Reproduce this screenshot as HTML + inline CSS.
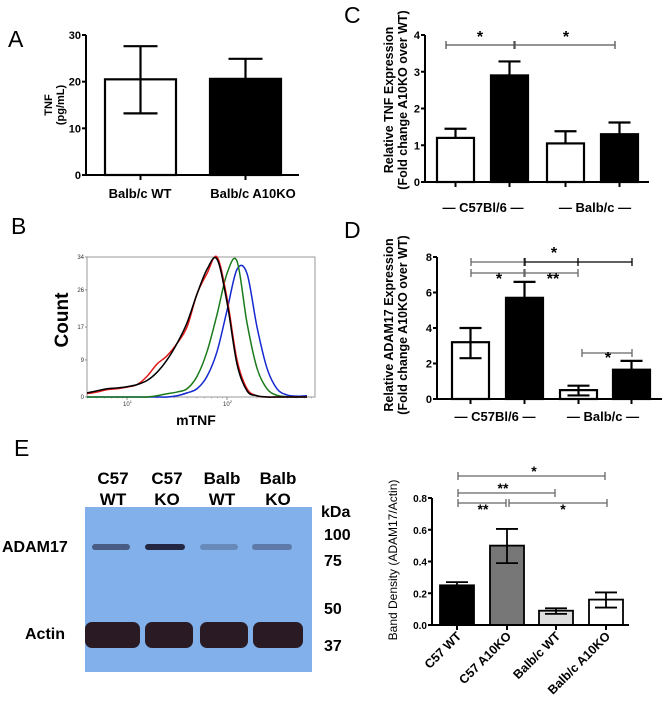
<!DOCTYPE html>
<html><head><meta charset="utf-8"><style>
html,body{margin:0;padding:0;background:#fff}
svg{display:block;font-family:"Liberation Sans",Arial,sans-serif}
</style></head><body>
<svg id="fig" width="662" height="701" viewBox="0 0 662 701" xmlns="http://www.w3.org/2000/svg">
<g id="pA"></g>
<g id="pB"></g>
<g id="pC"></g>
<g id="pD"></g>
<g id="pE"></g>
</svg>
<script>
// ---- data ----
const aCategories=["Balb/c WT","Balb/c A10KO"];
const aValues=[20.5,20.6];
const aErrLow=[13.2,20.6];
const aErrHigh=[27.6,24.9];
const aTicks=[0,10,20,30];

const cValues=[1.2,2.9,1.05,1.3];
const cErrHigh=[1.45,3.28,1.38,1.62];
const cTicks=[0,1,2,3,4];

const dValues=[3.2,5.7,0.5,1.65];
const dErrLow=[2.3,5.7,0.2,1.65];
const dErrHigh=[4.0,6.6,0.75,2.15];
const dTicks=[0,2,4,6,8];

const eCategories=["C57 WT","C57 A10KO","Balb/c WT","Balb/c A10KO"];
const eValues=[0.25,0.5,0.09,0.16];
const eErrLow=[0.23,0.39,0.07,0.11];
const eErrHigh=[0.27,0.605,0.105,0.205];
const eTicks=[0.0,0.2,0.4,0.6,0.8];

const bX=[0.6,0.7,0.8,0.9,1.0,1.1,1.2,1.3,1.4,1.5,1.6,1.7,1.8,1.9,2.0,2.1,2.2,2.3,2.4,2.5,2.6,2.7,2.8];
const bBlack=[1,1.5,2,2.2,2.5,3,4,6,9,13,18,25,31,33.5,23,8,1.5,0.3,0,0,0,0,0];
const bRed=[0.8,1.2,1.8,2,2.4,3,5,8,10,13,17,25,30,34,24,9,2,0.3,0,0,0,0,0];
const bGreen=[0,0,0,0,0,0,0,0.3,0.8,1.2,2,5,11,20,30,33,18,7,2,0.4,0.1,0,0];
const bBlue=[0,0,0,0,0,0,0,0,0,0.3,1,2,5,11,21,31,30,17,7,2,0.5,0.2,0.3];
const bYTicks=[0,9,17,26,34];

const NS="http://www.w3.org/2000/svg";
function mk(parent,tag,attrs,text){const e=document.createElementNS(NS,tag);for(const k in attrs)e.setAttribute(k,attrs[k]);if(text!==undefined)e.textContent=text;parent.appendChild(e);return e;}
function line(p,x1,y1,x2,y2,col,w){return mk(p,'line',{x1,y1,x2,y2,stroke:col||'#000','stroke-width':w||2});}

function barChart(g,o){
  const ys=v=>o.y0-(v-o.min)/(o.max-o.min)*(o.y0-o.yTop);
  o.values.forEach((v,i)=>{
    const x=o.barX[i];
    const r=mk(g,'rect',{x:x,y:ys(v),width:o.bw,height:o.y0-ys(v),fill:o.fills[i],stroke:'#000','stroke-width':o.sw||2.2});
    
    
    const cx=x+o.bw/2;
    const lo=o.errLow?o.errLow[i]:v, hi=o.errHigh[i];
    const eg=mk(g,'g',{});
    
    
    line(eg,cx,ys(hi),cx,ys(lo),'#000',o.sw||2.2);
    line(eg,cx-o.cap,ys(hi),cx+o.cap,ys(hi),'#000',o.sw||2.2);
    if(o.errLow&&lo<v) line(eg,cx-o.cap,ys(lo),cx+o.cap,ys(lo),'#000',o.sw||2.2);
  });
  const ax=mk(g,'g',{});
  
  
  line(ax,o.ax,ys(o.max),o.ax,o.y0,'#000',2);
  o.ticks.forEach(t=>{
    line(ax,o.ax-4,ys(t),o.ax,ys(t),'#000',2);
    const tx=mk(ax,'text',{x:o.ax-5,y:ys(t)+4,'text-anchor':'end','font-size':o.tfs||11,'font-weight':'bold'},o.fmt?o.fmt(t):String(t));
    
    
  });
  const xa=mk(g,'g',{});
  
  
  line(xa,o.ax,o.y0,o.axEnd,o.y0,'#000',2);
  o.values.forEach((v,i)=>{const cx=o.barX[i]+o.bw/2;line(xa,cx,o.y0,cx,o.y0+5,'#000',2);});
  return ys;
}
function sig(g,x1,x2,y,col,label,lx,ly,fs){
  const s=mk(g,'g',{});
  
  
  line(s,x1,y,x2,y,col,1.3);line(s,x1,y-4,x1,y+4,col,1.3);line(s,x2,y-4,x2,y+4,col,1.3);
  if(label){mk(s,'text',{x:lx,y:ly,'text-anchor':'middle','font-size':fs||16,'font-weight':'bold'},label);}
}
function rotLabel(g,x,y,lines,fs,name,weight){
  const t=mk(g,'text',{transform:`translate(${x},${y}) rotate(-90)`,'text-anchor':'middle','font-size':fs,'font-weight':weight||'bold'});
  
  
  lines.forEach((l,i)=>{mk(t,'tspan',{x:0,dy:i?fs*1.1:0},l);});
}
function letter(g,x,y,s){const t=mk(g,'text',{x,y,'font-size':23},s);}

// ---- Panel A ----
const pA=document.getElementById('pA');
letter(pA,8,47,'A');
barChart(pA,{values:aValues,errLow:aErrLow,errHigh:aErrHigh,barX:[105,210],bw:71,fills:['#fff','#000'],y0:175,yTop:35,min:0,max:30,ticks:aTicks,ax:86,axEnd:299,cap:17,tfs:11});
rotLabel(pA,52,105,['TNF','(pg/mL)'],11,'y-axis-title');
aCategories.forEach((c,i)=>{const t=mk(pA,'text',{x:[140,253][i],y:198,'text-anchor':'middle','font-size':13,'font-weight':'bold'},c);});

// ---- Panel B ----
const pB=document.getElementById('pB');
letter(pB,11,234,'B');
const bx0=87,bx1=315,by0=397,by1=257;
const bxs=v=>bx0+(v-0.6)/(2.88-0.6)*(bx1-bx0);
const bys=v=>by0-v/34*(by0-by1);
const frame=mk(pB,'rect',{x:bx0,y:by1,width:bx1-bx0,height:by0-by1,fill:'#fff',stroke:'#999','stroke-width':1});

bYTicks.forEach(t=>{mk(pB,'text',{x:bx0-3,y:bys(t)+2,'text-anchor':'end','font-size':6,fill:'#333'},String(t));line(pB,bx0-2,bys(t),bx0,bys(t),'#666',0.7);});
[1,2].forEach(d=>{const x=bxs(d);line(pB,x,by0,x,by0+3,'#666',0.7);const t=mk(pB,'text',{x:x-4,y:by0+9,'font-size':6,fill:'#333'},'10');mk(t,'tspan',{dy:-3,'font-size':4},String(d));});
for(let d=0;d<3;d++){for(let k=2;k<10;k++){const v=d+Math.log10(k);if(v>0.6&&v<2.88)line(pB,bxs(v),by0,bxs(v),by0+1.5,'#888',0.5);}}
function curve(arr,col,name){
  const pts=bX.map((x,i)=>[bxs(x),bys(arr[i])]);
  let d=`M${pts[0][0]},${pts[0][1]}`;
  for(let i=0;i<pts.length-1;i++){const p0=pts[Math.max(0,i-1)],p1=pts[i],p2=pts[i+1],p3=pts[Math.min(pts.length-1,i+2)];
    d+=` C${p1[0]+(p2[0]-p0[0])/6},${p1[1]+(p2[1]-p0[1])/6} ${p2[0]-(p3[0]-p1[0])/6},${p2[1]-(p3[1]-p1[1])/6} ${p2[0]},${p2[1]}`;}
  const p=mk(pB,'path',{d,fill:'none',stroke:col,'stroke-width':1.5});
  
  
}
curve(bBlue,'#1428d0','histogram-blue');
curve(bGreen,'#1a7a1a','histogram-green');
curve(bRed,'#e01818','histogram-red');
curve(bBlack,'#000','histogram-black');
rotLabel(pB,68,320,['Count'],19,'y-axis-title');
{const t=mk(pB,'text',{x:196,y:425,'text-anchor':'middle','font-size':14,'font-weight':'bold'},'mTNF');}

// ---- Panel C ----
const pC=document.getElementById('pC');
letter(pC,344,23,'C');
barChart(pC,{values:cValues,errHigh:cErrHigh,barX:[437,491,547,601],bw:37,fills:['#fff','#000','#fff','#000'],y0:182,yTop:35,min:0,max:4,ticks:cTicks,ax:425,axEnd:649,cap:11,tfs:11});
sig(pC,446,514,45,'#555','*',480,42);
sig(pC,515,615,45,'#555','*',566,42);
rotLabel(pC,393,100,['Relative TNF Expression','(Fold change A10KO over WT)'],12.5,'y-axis-title');
[['— C57Bl/6 —',483],['— Balb/c —',595]].forEach(([s,x])=>{const t=mk(pC,'text',{x,y:212,'text-anchor':'middle','font-size':13,'font-weight':'bold'},s);});

// ---- Panel D ----
const pD=document.getElementById('pD');
letter(pD,344,238,'D');
barChart(pD,{values:dValues,errLow:dErrLow,errHigh:dErrHigh,barX:[452,506,560,613],bw:37,fills:['#fff','#000','#fff','#000'],y0:399,yTop:257,min:0,max:8,ticks:dTicks,ax:437,axEnd:662,cap:11,tfs:11});
sig(pD,471,524,262,'#666',null);
sig(pD,525,632,262,'#000','*',554,258);
line(pD,578,258,578,266,'#000',1.3);
sig(pD,471,524,273,'#666','*',499,284);
sig(pD,525,578,273,'#666','**',553,284);
sig(pD,582,632,353,'#666','*',608,363);
rotLabel(pD,393,325,['Relative ADAM17 Expression','(Fold change A10KO over WT)'],12.5,'y-axis-title');
[['— C57Bl/6 —',495],['— Balb/c —',603]].forEach(([s,x])=>{const t=mk(pD,'text',{x,y:421,'text-anchor':'middle','font-size':13,'font-weight':'bold'},s);});

// ---- Panel E ----
const pE=document.getElementById('pE');
letter(pE,14,456,'E');
const blot=mk(pE,'g',{});


mk(blot,'rect',{x:85,y:507,width:227,height:165,fill:'#82b0ea'});
[[92,38,0.55],[145,40,0.9],[200,38,0.25],[252,40,0.35]].forEach(([x,w,a],i)=>{
  const r=mk(blot,'rect',{x,y:544,width:w,height:6,rx:3,fill:'#1a1830','fill-opacity':a});
  
});
[[85,55],[145,48],[200,48],[253,50]].forEach(([x,w],i)=>{
  const r=mk(blot,'rect',{x,y:622,width:w,height:26,rx:7,fill:'#2a1a24'});
  
});
[['C57','WT',113],['C57','KO',167],['Balb','WT',222],['Balb','KO',278]].forEach(([a,b,x])=>{
  const t=mk(pE,'text',{x,y:484,'text-anchor':'middle','font-size':17,'font-weight':'bold'});
  
  mk(t,'tspan',{x,dy:0},a);mk(t,'tspan',{x,dy:21},b);
});
[['kDa',321,517],['100',324,540],['75',324,566],['50',324,614],['37',324,651]].forEach(([s,x,y])=>{const t=mk(pE,'text',{x,y,'font-size':16,'font-weight':'bold'},s);});
{const t=mk(pE,'text',{x:2,y:552,'font-size':16,'font-weight':'bold'},'ADAM17');}
{const t=mk(pE,'text',{x:25,y:639,'font-size':16,'font-weight':'bold'},'Actin');}

barChart(pE,{values:eValues,errLow:eErrLow,errHigh:eErrHigh,barX:[440,490,539,589],bw:34,fills:['#000','#777','#ddd','#fff'],y0:625,yTop:498,min:0,max:0.8,ticks:eTicks,ax:432,axEnd:629,cap:11,tfs:10,sw:1.8,fmt:t=>t.toFixed(1)});
sig(pE,458,605,476,'#666','*',534,476,14);
sig(pE,458,555,493,'#666','**',503,493,14);
sig(pE,458,506,503,'#666','**',483,514,14);
sig(pE,509,607,503,'#666','*',563,514,14);
rotLabel(pE,397,560,['Band Density  (ADAM17/Actin)'],12,'y-axis-title','normal');
eCategories.forEach((c,i)=>{const cx=[457,507,556,606][i];
  const t=mk(pE,'text',{transform:`translate(${cx+5},${637}) rotate(-45)`,'text-anchor':'end','font-size':12.5,'font-weight':'bold'},c);
  });
</script>
</body></html>
